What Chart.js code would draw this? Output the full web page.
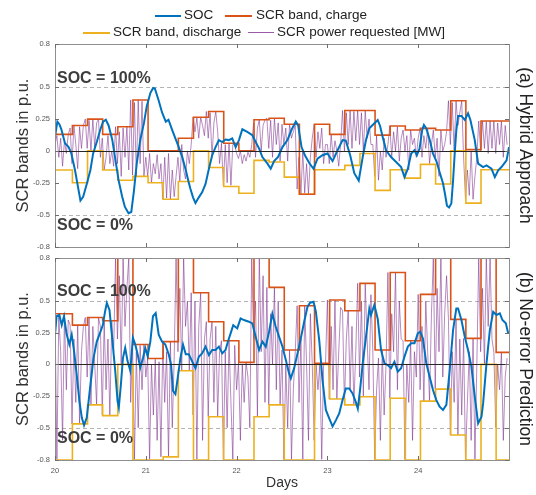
<!DOCTYPE html>
<html>
<head>
<meta charset="utf-8">
<script src="https://cdn.jsdelivr.net/npm/chart.js@4.4.1/dist/chart.umd.min.js"></script>
<style>
  body { margin: 0; background: #fff; }
  #wrap { position: relative; width: 536px; height: 495px; font-family: 'Liberation Sans', Arial, sans-serif; }
  canvas { position: absolute; left: 0; top: 0; }
  .key { position: absolute; height: 2px; }
  .lbl { position: absolute; font-size: 13.5px; line-height: 16px; color: #222; white-space: nowrap; }
</style>
</head>
<body>
<div id="wrap">
  <canvas id="chartA" width="536" height="495"></canvas>
  <canvas id="chartB" width="536" height="495"></canvas>

  <!-- legend, two rows like the original -->
  <span class="key" style="left:155px;top:15px;width:26px;background:#0072BD"></span>
  <span class="lbl" style="left:184px;top:7px">SOC</span>
  <span class="key" style="left:225px;top:15px;width:27px;background:#D95319"></span>
  <span class="lbl" style="left:256px;top:7px">SCR band, charge</span>
  <span class="key" style="left:83px;top:32px;width:27px;background:#EDB120"></span>
  <span class="lbl" style="left:113px;top:24px">SCR band, discharge</span>
  <span class="key" style="left:248px;top:32px;width:26px;height:1px;background:#9b5aa8"></span>
  <span class="lbl" style="left:277px;top:24px">SCR power requested [MW]</span>
</div>

<script>
const dayMin = 20, dayMax = 25;
const dayTicks = [20, 21, 22, 23, 24];
const yMin = -0.755, yMax = 0.84;   // axis limits, edges are labelled -0.8 / 0.8
const yTickValues = [yMin, -0.5, -0.25, 0, 0.25, 0.5, yMax];
const yTickLabels = ['-0.8', '-0.5', '-0.25', '0', '0.25', '0.5', '0.8'];
const bandShift = 0.025;            // band steps sit a little after the 4-hour marks

/* SCR bands: one value per 4-hour block, 30 blocks */
const chargeA = [0.13, 0.20, 0.25, 0.13, 0.19, 0.40, 0.0, 0.0, 0.10, 0.265, 0.31, 0.06, 0.0, 0.245, 0.257,
                 0.21, -0.34, 0.21, 0.13, 0.317, 0.317, 0.124, 0.196, 0.164, 0.177, 0.164, 0.394, 0.01, 0.235, 0.235];
const dischargeA = [-0.15, -0.25, 0.0, -0.15, -0.23, -0.20, -0.25, -0.38, -0.24, 0.0, -0.13, -0.28, -0.333, -0.074, -0.087,
                    -0.206, -0.34, -0.148, -0.148, -0.114, -0.02, -0.31, -0.148, -0.214, -0.106, -0.26, 0.0, -0.41, -0.148, -0.148];
const chargeB = [0.40, 0.31, 0.37, 0.345, 0.84, 0.157, 0.047, 0.18, 0.84, 0.566, 0.337, 0.187, 0.016, 0.84, 0.608,
                 0.113, 0.463, 0.008, 0.508, 0.424, 0.64, 0.113, 0.726, 0.187, 0.553, 0.84, 0.355, 0.205, 0.84, 0.095];
const dischargeB = [-0.755, -0.47, -0.32, -0.405, 0.0, -0.755, -0.755, -0.73, -0.05, -0.755, -0.413, -0.755, -0.755, -0.413, -0.32,
                    -0.755, -0.755, 0.0, -0.273, -0.32, -0.255, -0.755, -0.268, -0.755, -0.29, -0.195, -0.558, -0.755, 0.0, -0.755];

/* SOC curves */
const socDaysA = [20.0, 20.026, 20.048, 20.07, 20.11, 20.15, 20.18, 20.22, 20.26, 20.28,
  20.31, 20.35, 20.39, 20.42, 20.46, 20.50, 20.53, 20.56, 20.59, 20.63,
  20.66, 20.70, 20.74, 20.77, 20.81, 20.84, 20.87, 20.90, 20.94, 20.98,
  21.01, 21.05, 21.08, 21.10, 21.14, 21.18, 21.22, 21.25, 21.29, 21.33,
  21.36, 21.40, 21.44, 21.47, 21.492, 21.52, 21.547, 21.584, 21.62, 21.658,
  21.695, 21.731, 21.768, 21.805, 21.842, 21.878, 21.915, 21.952, 21.99, 22.026,
  22.063, 22.118, 22.173, 22.21, 22.247, 22.284, 22.34, 22.376, 22.413, 22.457,
  22.505, 22.56, 22.604, 22.652, 22.678, 22.715, 22.752, 22.8, 22.847, 22.891,
  22.946, 23.0, 23.057, 23.112, 23.167, 23.203, 23.251, 23.296, 23.345, 23.389,
  23.425, 23.462, 23.499, 23.554, 23.58, 23.609, 23.646, 23.701, 23.757, 23.812,
  23.849, 23.886, 23.923, 23.959, 23.985, 24.015, 24.044, 24.063, 24.089, 24.126,
  24.163, 24.2, 24.236, 24.273, 24.295, 24.317, 24.34, 24.365, 24.384, 24.402,
  24.42, 24.439, 24.476, 24.513, 24.549, 24.575, 24.623, 24.66, 24.715, 24.752,
  24.807, 24.844, 24.881, 24.917, 24.973, 25.0];
const socA = [0.11, 0.23, 0.21, 0.17, 0.06, 0.03, -0.02, -0.15, -0.31, -0.39,
  -0.36, -0.26, -0.15, -0.02, 0.07, 0.17, 0.23, 0.245, 0.2, 0.09,
  -0.045, -0.23, -0.36, -0.44, -0.49, -0.48, -0.31, -0.1, 0.09, 0.22,
  0.35, 0.455, 0.495, 0.49, 0.40, 0.30, 0.23, 0.245, 0.165, 0.09,
  0.035, -0.045, -0.15, -0.24, -0.30, -0.365, -0.41, -0.365, -0.325, -0.26,
  -0.14, -0.034, 0.03, 0.085, 0.07, 0.09, 0.085, 0.098, 0.03, 0.085,
  0.17, 0.15, 0.124, 0.07, 0.02, -0.048, -0.1, -0.14, -0.08, -0.048,
  0.03, 0.085, 0.164, 0.23, 0.2, 0.03, -0.034, -0.095, -0.14, -0.06,
  -0.034, -0.02, -0.08, 0.005, 0.085, 0.08, -0.034, -0.175, -0.233, -0.048,
  0.085, 0.177, 0.204, 0.243, 0.196, 0.11, 0.005, -0.048, -0.087, -0.127,
  -0.206, -0.14, -0.021, 0.005, -0.034, 0.018, 0.164, 0.204, 0.177, 0.09,
  -0.021, -0.08, -0.167, -0.254, -0.339, -0.43, -0.444, -0.413, -0.233, -0.021,
  0.164, 0.275, 0.275, 0.243, 0.296, 0.243, 0.085, -0.1, -0.127, -0.114,
  -0.14, -0.206, -0.153, -0.127, -0.074, 0.03];

const socDaysB = [20.0, 20.018, 20.048, 20.074, 20.099, 20.129, 20.158, 20.184, 20.21, 20.239,
  20.269, 20.295, 20.32, 20.35, 20.387, 20.424, 20.46, 20.497, 20.527, 20.552,
  20.571, 20.6, 20.626, 20.663, 20.689, 20.703, 20.726, 20.748, 20.773, 20.799,
  20.829, 20.858, 20.884, 20.91, 20.939, 20.969, 20.994, 21.02, 21.05, 21.079,
  21.109, 21.142, 21.179, 21.215, 21.252, 21.278, 21.3, 21.326, 21.352, 21.381,
  21.41, 21.44, 21.473, 21.547, 21.584, 21.62, 21.658, 21.695, 21.731, 21.768,
  21.805, 21.842, 21.878, 21.904, 21.934, 21.963, 22.007, 22.044, 22.081, 22.136,
  22.173, 22.21, 22.247, 22.284, 22.321, 22.358, 22.394, 22.431, 22.468, 22.505,
  22.542, 22.578, 22.597, 22.634, 22.671, 22.707, 22.744, 22.781, 22.81, 22.847,
  22.873, 22.91, 22.946, 22.983, 23.02, 23.057, 23.094, 23.13, 23.167, 23.203,
  23.24, 23.277, 23.314, 23.335, 23.36, 23.389, 23.425, 23.462, 23.48, 23.517,
  23.554, 23.591, 23.628, 23.664, 23.701, 23.738, 23.775, 23.812, 23.849, 23.886,
  23.923, 23.959, 23.996, 24.022, 24.052, 24.089, 24.126, 24.163, 24.2, 24.236,
  24.273, 24.31, 24.347, 24.384, 24.42, 24.439, 24.476, 24.513, 24.549, 24.586,
  24.623, 24.66, 24.697, 24.715, 24.752, 24.789, 24.826, 24.862, 24.899, 24.928,
  24.965, 24.991];
const socB = [0.235, 0.38, 0.39, 0.31, 0.38, 0.235, 0.157, 0.235, 0.105, -0.08,
  -0.29, -0.42, -0.48, -0.42, -0.18, 0.05, 0.18, 0.25, 0.31, 0.42,
  0.485, 0.43, 0.235, -0.05, -0.29, -0.34, -0.157, 0.05, 0.13, 0.026,
  -0.05, 0.21, 0.157, 0.08, -0.026, 0.05, 0.13, 0.065, 0.18, 0.38,
  0.405, 0.235, 0.18, 0.157, 0.08, 0.0, -0.21, -0.235, -0.105, 0.05,
  0.157, 0.08, 0.08, -0.03, 0.06, 0.087, 0.14, 0.074, 0.113, 0.113,
  0.14, 0.087, 0.113, 0.179, 0.245, 0.31, 0.284, 0.363, 0.35, 0.337,
  0.324, 0.218, 0.113, 0.179, 0.14, 0.26, 0.40, 0.297, 0.218, 0.14,
  0.034, -0.071, -0.11, -0.03, 0.087, 0.205, 0.337, 0.455, 0.487, 0.495,
  0.416, 0.192, -0.124, -0.36, -0.426, -0.49, -0.44, -0.387, -0.282, -0.19,
  -0.19, -0.229, -0.3, -0.35, -0.2, 0.008, 0.218, 0.44, 0.39, 0.47,
  0.36, 0.113, 0.008, -0.005, -0.03, 0.021, -0.058, -0.03, 0.061, 0.14,
  0.166, 0.166, 0.245, 0.258, 0.205, 0.008, -0.097, -0.203, -0.282, -0.334,
  -0.36, -0.32, -0.045, 0.271, 0.442, 0.442, 0.35, 0.218, 0.113, -0.018,
  -0.255, -0.466, -0.413, -0.308, 0.008, 0.271, 0.416, 0.39, 0.403, 0.35,
  0.324, 0.245];

/* SCR power requested, half-hour samples (8 per band block) */
const powerA = [
  0.05, 0.12, -0.05, 0.1, -0.12, 0.08, -0.02, 0.13,
  0.18, -0.1, 0.2, 0.05, -0.14, 0.19, 0.02, 0.2,
  0.25, 0.02, 0.24, 0.0, 0.25, 0.03, 0.22, 0.25,
  -0.05, 0.1, -0.15, -0.05, 0.12, -0.1, 0.0, -0.12,
  0.19, -0.1, 0.15, -0.2, 0.18, -0.05, 0.19, -0.15,
  0.4, -0.19, 0.38, -0.2, 0.4, -0.1, 0.39, -0.2,
  -0.05, -0.2, -0.02, -0.25, -0.1, -0.18, -0.03, -0.22,
  -0.1, -0.38, -0.05, -0.37, -0.02, -0.38, -0.15, -0.36,
  -0.2, -0.05, -0.24, 0.05, -0.15, -0.22, 0.0, -0.1,
  0.05, 0.265, 0.15, 0.26, 0.1, 0.265, 0.2, 0.12,
  0.31, 0.1, 0.3, -0.05, 0.22, 0.31, 0.15, -0.1,
  0.06, -0.27, 0.05, -0.25, 0.06, -0.27, 0.05, 0.05,
  -0.02, -0.06, 0.0, -0.1, -0.03, -0.08, -0.01, -0.05,
  0.05, 0.22, -0.05, 0.18, 0.245, 0.0, 0.2, 0.245,
  0.257, 0.02, 0.24, -0.05, 0.257, 0.05, 0.22, -0.08,
  0.21, 0.05, 0.18, -0.08, 0.21, 0.1, 0.15, 0.2,
  -0.3, -0.05, -0.34, 0.0, -0.33, -0.1, -0.34, -0.05,
  0.1, 0.21, -0.05, 0.15, 0.02, 0.18, -0.1, 0.05,
  0.05, -0.1, 0.13, -0.05, 0.08, 0.0, -0.12, 0.06,
  0.317, 0.0, 0.3, 0.05, 0.317, 0.02, 0.31, 0.08,
  0.317, 0.05, 0.3, 0.0, 0.317, 0.1, 0.25, 0.05,
  0.05, -0.2, 0.12, -0.23, 0.0, -0.15, 0.1, -0.05,
  0.05, 0.196, -0.05, 0.15, 0.0, 0.19, -0.08, 0.1,
  0.164, 0.0, 0.12, -0.15, 0.164, 0.05, 0.1, -0.05,
  0.1, 0.177, -0.05, 0.12, 0.02, 0.177, -0.1, 0.05,
  0.164, -0.05, 0.1, -0.2, 0.164, 0.0, 0.05, 0.15,
  0.394, 0.05, 0.38, 0.0, 0.394, 0.2, 0.3, 0.394,
  -0.05, -0.38, -0.15, -0.35, 0.0, -0.38, -0.2, -0.05,
  0.235, 0.0, 0.235, 0.02, 0.23, -0.02, 0.235, 0.02,
  0.235, -0.02, 0.22, 0.05, 0.235, -0.05, 0.2, 0.05];
const powerB = [
  0.4, -0.75, 0.38, 0.1, -0.6, 0.4, -0.2, 0.35,
  0.31, -0.47, 0.2, -0.3, 0.31, -0.47, 0.1, 0.3,
  0.37, -0.1, 0.37, -0.32, 0.3, 0.0, -0.32, 0.37,
  0.3, -0.4, 0.345, -0.2, 0.2, -0.405, 0.34, 0.1,
  0.84, 0.2, 0.7, 0.0, 0.84, 0.3, 0.6, 0.84,
  -0.3, 0.157, -0.75, 0.1, -0.5, 0.15, -0.2, 0.157,
  -0.1, 0.047, -0.75, 0.0, -0.4, 0.04, -0.6, 0.02,
  -0.73, 0.18, -0.3, 0.1, -0.73, 0.18, -0.5, 0.05,
  0.84, 0.1, 0.6, -0.05, 0.84, 0.3, 0.5, -0.05,
  0.566, -0.4, 0.5, -0.75, 0.3, 0.566, -0.6, 0.2,
  0.337, -0.41, 0.2, 0.337, -0.3, 0.3, -0.41, 0.1,
  0.187, -0.75, 0.1, -0.5, 0.187, -0.3, -0.75, 0.15,
  -0.2, 0.016, -0.6, 0.0, -0.3, 0.016, -0.1, -0.5,
  0.84, 0.2, 0.5, -0.41, 0.84, 0.1, 0.7, -0.3,
  0.608, -0.32, 0.4, 0.0, 0.608, -0.2, 0.5, -0.32,
  0.113, -0.75, 0.0, -0.5, 0.113, -0.75, -0.2, 0.1,
  0.463, -0.3, 0.2, -0.75, 0.463, 0.0, -0.6, 0.4,
  0.0, -0.6, 0.008, -0.2, 0.0, -0.75, 0.0, 0.0,
  0.508, -0.273, 0.3, -0.2, 0.508, -0.273, 0.1, 0.45,
  0.424, -0.32, 0.2, 0.424, -0.2, 0.3, -0.32, 0.1,
  0.64, -0.1, 0.5, -0.255, 0.64, 0.2, -0.2, 0.55,
  0.113, -0.75, -0.2, 0.05, -0.6, 0.113, -0.4, 0.0,
  0.726, -0.268, 0.4, 0.1, 0.726, -0.2, 0.5, 0.2,
  0.187, -0.75, 0.0, -0.3, 0.187, -0.6, 0.1, -0.1,
  0.553, -0.2, 0.3, -0.29, 0.5, 0.1, -0.29, 0.4,
  0.84, -0.195, 0.6, 0.1, 0.84, -0.1, 0.4, 0.7,
  0.355, -0.558, 0.1, -0.3, 0.355, -0.558, 0.2, -0.4,
  0.205, -0.75, -0.3, 0.1, -0.6, 0.205, -0.75, 0.0,
  0.84, 0.1, 0.6, 0.0, 0.84, 0.3, 0.84, 0.2,
  0.095, -0.5, 0.0, -0.2, 0.095, -0.6, -0.1, 0.05];

const fontFamily = "'Liberation Sans', Arial, sans-serif";

function bandPoints(values) {
  const pts = values.map((v, k) => ({ x: dayMin + k / 6 + (k ? bandShift : 0), y: v }));
  pts.push({ x: dayMax, y: values[values.length - 1] });
  return pts;
}
function seriesPoints(days, values) {
  return days.map((d, i) => ({ x: d, y: values[i] }));
}
function powerPoints(values) {
  return values.map((v, i) => ({ x: dayMin + i / 48, y: v }));
}

// dashed SOC limits, zero line, box, inward ticks and the SOC labels
const matlabAxes = {
  id: 'matlabAxes',
  beforeDatasetsDraw(chart) {
    const { ctx, chartArea: a, scales: { y } } = chart;
    ctx.save();
    ctx.strokeStyle = '#b4b4b4';
    ctx.lineWidth = 1;
    ctx.setLineDash([4, 3]);
    [0.5, -0.5].forEach(v => {
      const py = Math.round(y.getPixelForValue(v)) + 0.5;
      ctx.beginPath(); ctx.moveTo(a.left, py); ctx.lineTo(a.right, py); ctx.stroke();
    });
    ctx.restore();
  },
  afterDatasetsDraw(chart) {
    const { ctx, chartArea: a, scales: { x, y } } = chart;
    ctx.save();
    // zero line
    const p0 = Math.round(y.getPixelForValue(0)) + 0.5;
    ctx.strokeStyle = '#262626';
    ctx.lineWidth = 1;
    ctx.beginPath(); ctx.moveTo(a.left, p0); ctx.lineTo(a.right, p0); ctx.stroke();
    // box
    ctx.strokeStyle = '#8f8f8f';
    ctx.strokeRect(Math.round(a.left) + 0.5, Math.round(a.top) + 0.5, Math.round(a.right - a.left), Math.round(a.bottom - a.top));
    // inward ticks
    ctx.strokeStyle = '#6e6e6e';
    ctx.beginPath();
    y.ticks.forEach(t => {
      const py = Math.round(y.getPixelForValue(t.value)) + 0.5;
      ctx.moveTo(a.left, py); ctx.lineTo(a.left + 4, py);
      ctx.moveTo(a.right, py); ctx.lineTo(a.right - 4, py);
    });
    x.ticks.forEach(t => {
      const px = Math.round(x.getPixelForValue(t.value)) + 0.5;
      ctx.moveTo(px, a.bottom); ctx.lineTo(px, a.bottom - 4);
      ctx.moveTo(px, a.top); ctx.lineTo(px, a.top + 4);
    });
    ctx.stroke();
    // SOC labels
    ctx.fillStyle = '#3d3d3d';
    ctx.font = 'bold 16px ' + fontFamily;
    ctx.textBaseline = 'middle';
    ctx.textAlign = 'left';
    ctx.fillText('SOC = 100%', a.left + 2, y.getPixelForValue(0.5) - 9);
    ctx.fillText('SOC = 0%', a.left + 2, y.getPixelForValue(-0.5) + 11);
    ctx.restore();
  }
};

function makeChart(id, soc, charge, discharge, power, panelTitle, isBottom) {
  return new Chart(document.getElementById(id), {
    type: 'line',
    data: {
      datasets: [
        { label: 'SOC', data: soc, borderColor: '#0072BD', borderWidth: 2 },
        { label: 'SCR band, charge', data: bandPoints(charge), borderColor: '#D95319', borderWidth: 1.6, stepped: true },
        { label: 'SCR band, discharge', data: bandPoints(discharge), borderColor: '#EDB120', borderWidth: 1.6, stepped: true },
        { label: 'SCR power requested [MW]', data: powerPoints(power), borderColor: 'rgba(126,47,142,0.7)', borderWidth: 0.8 }
      ]
    },
    options: {
      responsive: false,
      animation: false,
      events: [],
      elements: { point: { radius: 0 }, line: { tension: 0 } },
      layout: { padding: isBottom ? { top: 258, bottom: 0, left: 0, right: 0 } : { top: 44, bottom: 248, left: 0, right: 0 } },
      plugins: { legend: { display: false }, tooltip: { enabled: false } },
      scales: {
        x: {
          type: 'linear', min: dayMin, max: dayMax,
          grid: { display: false, drawTicks: false }, border: { display: false },
          afterBuildTicks: s => { s.ticks = dayTicks.map(v => ({ value: v })); },
          ticks: { display: isBottom, padding: 6, color: '#555', font: { size: 7.5, family: fontFamily }, callback: v => String(v) },
          title: { display: isBottom, text: 'Days', color: '#333', font: { size: 14, family: fontFamily }, padding: { top: 0, bottom: 3 } },
          afterFit: s => { s.height = isBottom ? 35 : 0; }
        },
        y: {
          type: 'linear', position: 'left', min: yMin, max: yMax,
          grid: { display: false, drawTicks: false }, border: { display: false },
          afterBuildTicks: s => { s.ticks = yTickValues.map(v => ({ value: v })); },
          ticks: { padding: 5, color: '#555', font: { size: 7.5, family: fontFamily }, callback: (v, i) => yTickLabels[i] },
          title: { display: true, text: 'SCR bands in p.u.', color: '#333', font: { size: 16.5, family: fontFamily }, padding: { top: 13.5, bottom: 0 } },
          afterFit: s => { s.width = 55; }
        },
        y2: {
          type: 'linear', position: 'right', display: true,
          grid: { display: false, drawTicks: false }, border: { display: false },
          ticks: { display: false },
          title: { display: true, text: panelTitle, color: '#222', font: { size: 17.5, family: fontFamily }, padding: { top: 1, bottom: 0 } },
          afterFit: s => { s.width = 27; }
        }
      }
    },
    plugins: [matlabAxes]
  });
}

makeChart('chartA', seriesPoints(socDaysA, socA), chargeA, dischargeA, powerA, '(a) Hybrid Approach', false);
makeChart('chartB', seriesPoints(socDaysB, socB), chargeB, dischargeB, powerB, '(b) No-error Prediction', true);
</script>
</body>
</html>
